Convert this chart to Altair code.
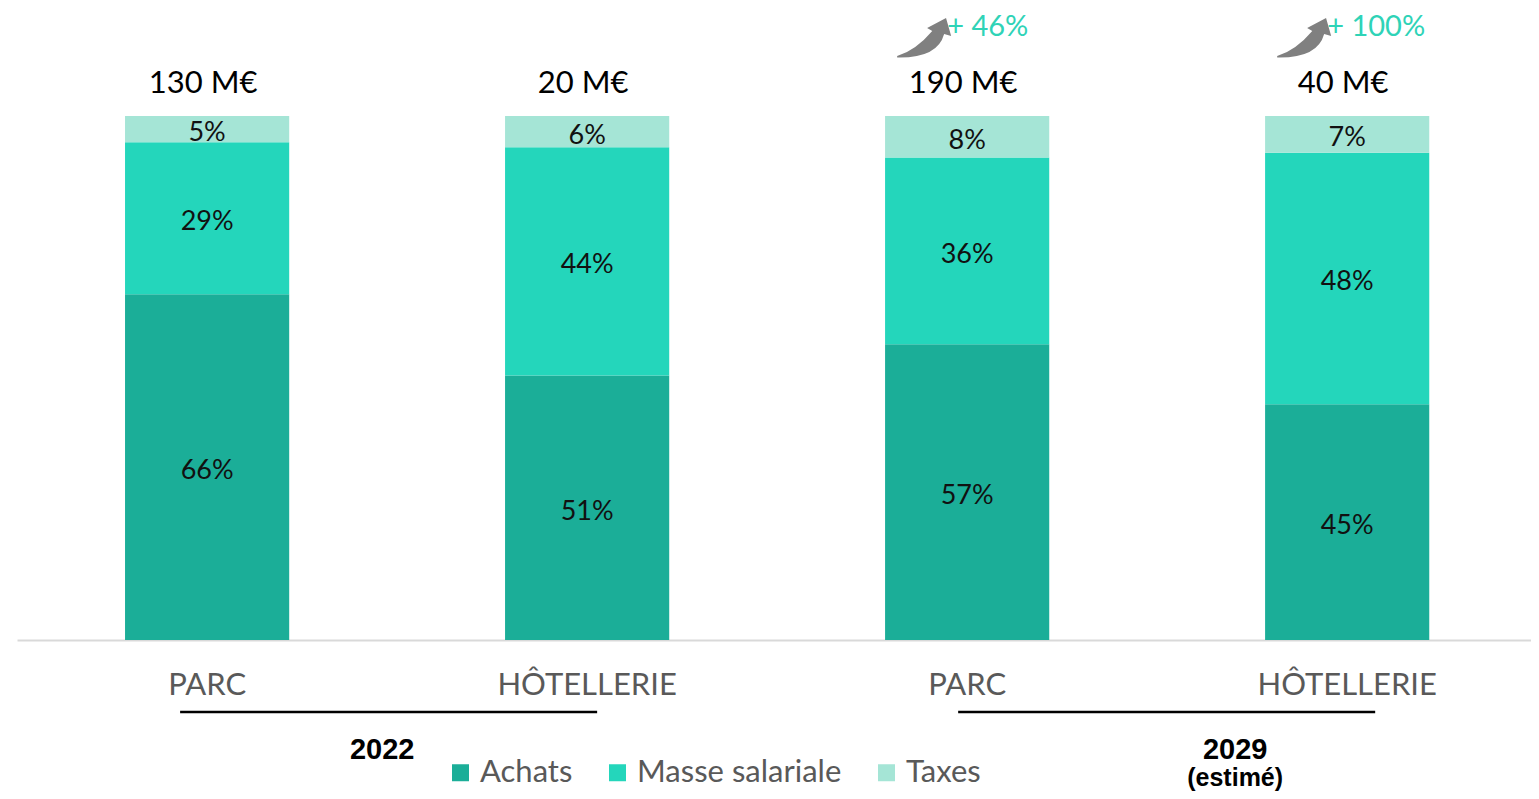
import altair as alt
import pandas as pd

# ---- data ----
categories = ["PARC", "HÔTELLERIE", "PARC", "HÔTELLERIE"]
years = ["2022", "2022", "2029", "2029"]
components = ["Achats", "Masse salariale", "Taxes"]
achats = [66, 51, 57, 45]
masse = [29, 44, 36, 48]
taxes = [5, 6, 8, 7]
totals = ["130 M€", "20 M€", "190 M€", "40 M€"]
growth = ["", "", "+ 46%", "+ 100%"]
year_labels = ["2022", "2029"]
year_sub = ["", "(estimé)"]

colors = ["#1bae98", "#24d6bb", "#a5e5d6"]
FONT = "Lato"
YFONT = "Liberation Sans"

keys = [f"{c}|{y}" for c, y in zip(categories, years)]

rows = []
for i, k in enumerate(keys):
    for j, (comp, vals) in enumerate(zip(components, [achats, masse, taxes])):
        rows.append({"key": k, "component": comp, "value": vals[i], "order": j})
df = pd.DataFrame(rows)

df_tot = pd.DataFrame({"key": keys, "total": totals, "growth": growth})
df_growth = df_tot[df_tot["growth"] != ""]

XSCALE = alt.Scale(domain=keys, paddingInner=0.568, paddingOuter=0.276, align=0.515)
XAXIS = alt.Axis(
    title=None,
    labelExpr="split(datum.label, '|')[0]",
    labelAngle=0,
    labelFont=FONT,
    labelFontSize=31,
    labelColor="#595959",
    labelPadding=30,
    ticks=False,
    tickSize=0,
    domainColor="#d9d9d9",
    domainWidth=2,
    grid=False,
)


def X(field="key"):
    return alt.X(f"{field}:N", sort=keys, scale=XSCALE, axis=XAXIS, title=None)


yscale = alt.Scale(domain=[0, 1], nice=False)

bars = alt.Chart(df).mark_bar().encode(
    x=X(),
    y=alt.Y("value:Q", stack="normalize", scale=yscale, axis=None),
    color=alt.Color(
        "component:N",
        scale=alt.Scale(domain=components, range=colors),
        legend=alt.Legend(
            title=None,
            orient="none",
            legendX=428,
            legendY=641,
            direction="horizontal",
            symbolType="square",
            symbolSize=289,
            symbolStrokeWidth=0,
            labelFont=FONT,
            labelFontSize=31,
            labelColor="#595959",
            labelOffset=4,
            labelLimit=0,
            columnPadding=29,
            padding=0,
        ),
    ),
    order=alt.Order("order:Q", sort="ascending"),
)

seg_text = (
    alt.Chart(df)
    .transform_stack(
        stack="value",
        as_=["y0", "y1"],
        groupby=["key"],
        sort=[alt.SortField("order", order="ascending")],
        offset="normalize",
    )
    .transform_calculate(mid="(datum.y0 + datum.y1) / 2", lbl="datum.value + '%'")
    .mark_text(font=FONT, fontSize=27, color="#111111", baseline="middle", dy=4)
    .encode(x=X(), y=alt.Y("mid:Q", scale=yscale, axis=None), text="lbl:N")
)

tot_text = alt.Chart(df_tot).mark_text(
    font=FONT, fontSize=31, color="#000000", baseline="middle", dy=-32, dx=-4
).encode(x=X(), y=alt.Y(datum=1, scale=yscale, axis=None), text="total:N")

growth_text = alt.Chart(df_growth).mark_text(
    font=FONT, fontSize=29, color="#2fd3b7", baseline="middle", align="left", dy=-89, dx=-20
).encode(x=X(), y=alt.Y(datum=1, scale=yscale, axis=None), text="growth:N")

arrow_path = (
    "M -1 0.67 Q -0.3 0.45 0.3 -0.26 L 0.11 -0.37 L 0.81 -0.74 L 1 -0.07 "
    "L 0.74 -0.15 Q 0.5 0.75 -1 0.72 Z"
)
arrows = alt.Chart(df_growth).mark_point(
    shape=arrow_path, size=2916, filled=True, color="#808080", opacity=1,
    strokeWidth=0, xOffset=-43, yOffset=-78,
).encode(x=X(), y=alt.Y(datum=1, scale=yscale, axis=None))

layers = [bars, seg_text, tot_text, growth_text, arrows]

# group lines and year labels
group_style = [
    {"line": (-27, 10), "dx": -205},
    {"line": (-9, 28), "dx": -112},
]
for g in range(2):
    a, b = keys[2 * g], keys[2 * g + 1]
    gdf = pd.DataFrame({"key": [a], "key2": [b], "year": [year_labels[g]], "sub": [year_sub[g]]})
    lo, hi = group_style[g]["line"]
    rule = alt.Chart(gdf).mark_rule(
        color="#000000", strokeWidth=2.5, xOffset=lo, x2Offset=hi, yOffset=72
    ).encode(
        x=X(), x2="key2:N", y=alt.Y(datum=0, scale=yscale, axis=None)
    )
    ytxt = alt.Chart(gdf).mark_text(
        font=YFONT, fontSize=29, fontWeight="bold", color="#000000",
        baseline="middle", dx=group_style[g]["dx"], dy=110,
    ).encode(
        x=X("key2"), y=alt.Y(datum=0, scale=yscale, axis=None), text="year:N",
    )
    layers += [rule, ytxt]
    if year_sub[g]:
        stxt = alt.Chart(gdf).mark_text(
            font=YFONT, fontSize=25, fontWeight="bold", color="#000000",
            baseline="middle", dx=group_style[g]["dx"], dy=138,
        ).encode(
            x=X("key2"), y=alt.Y(datum=0, scale=yscale, axis=None), text="sub:N",
        )
        layers.append(stxt)

chart = (
    alt.layer(*layers)
    .properties(
        width=1514,
        height=524,
        autosize=alt.AutoSizeParams(type="none"),
        padding={"left": 9, "top": 108, "right": 0, "bottom": 151},
        background="#ffffff",
    )
    .configure_view(stroke=None)
)

chart.save("out.html", embed_options={"renderer": "svg", "actions": False})
